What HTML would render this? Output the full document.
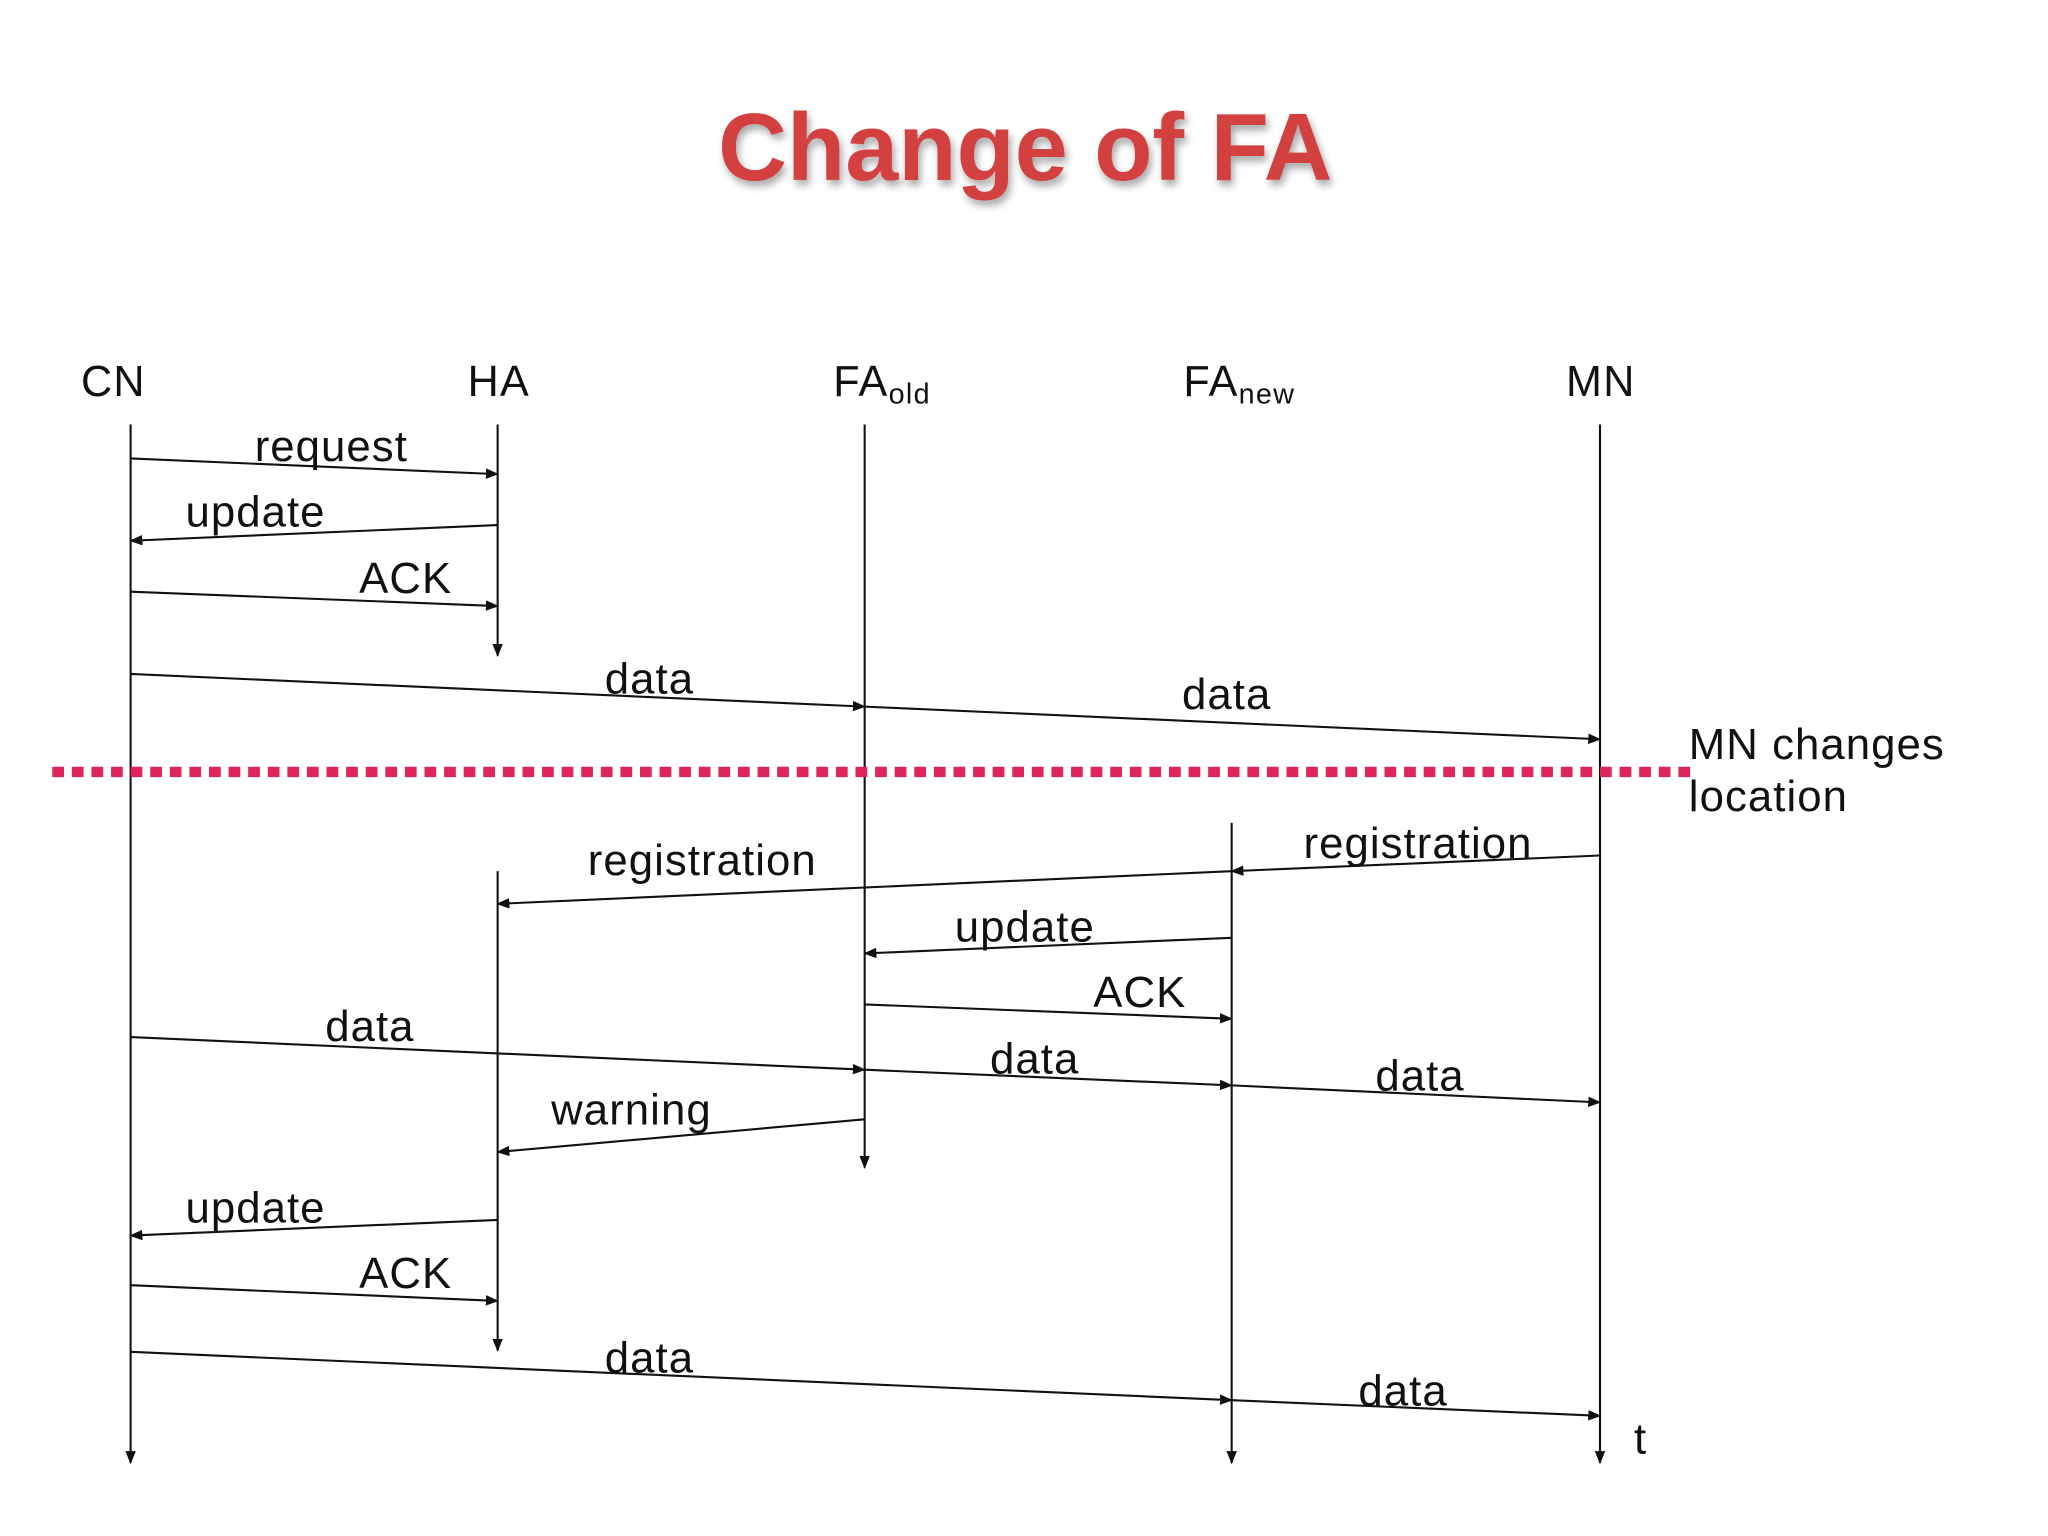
<!DOCTYPE html>
<html><head><meta charset="utf-8"><style>
html,body{margin:0;padding:0;background:#fff;}
svg{display:block;}
text{font-family:"Liberation Sans",sans-serif;fill:#111;}
</style></head><body>
<svg width="2048" height="1536" viewBox="0 0 1568 1176" xmlns="http://www.w3.org/2000/svg">
<defs>
<marker id="a" markerWidth="10" markerHeight="8" refX="9" refY="4" orient="auto" markerUnits="userSpaceOnUse"><path d="M0,0 L10,4 L0,8 z" fill="#111"/></marker>
<filter id="sh"><feDropShadow dx="2" dy="4" stdDeviation="3" flood-color="#000" flood-opacity="0.35"/></filter>
</defs>
<rect width="1568" height="1176" fill="#fff"/>
<text x="785" y="138" text-anchor="middle" font-size="73" font-weight="bold" style="fill:#d2403f" filter="url(#sh)">Change of FA</text>

<g font-size="33" letter-spacing="1">
<text x="62" y="303">CN</text>
<text x="358" y="303">HA</text>
<text x="638" y="303">FA<tspan font-size="22" dy="6">old</tspan></text>
<text x="906" y="303">FA<tspan font-size="22" dy="6">new</tspan></text>
<text x="1199" y="303">MN</text>
</g>

<g stroke="#111" stroke-width="1.6" fill="none" marker-end="url(#a)">
<line x1="100" y1="325" x2="100" y2="1120"/>
<line x1="381" y1="325" x2="381" y2="502"/>
<line x1="381" y1="667" x2="381" y2="1034"/>
<line x1="662" y1="325" x2="662" y2="894"/>
<line x1="943" y1="630" x2="943" y2="1120"/>
<line x1="1225" y1="325" x2="1225" y2="1120"/>

<line x1="100" y1="351" x2="381" y2="363"/>
<line x1="381" y1="402" x2="100" y2="414"/>
<line x1="100" y1="453" x2="381" y2="464"/>
<line x1="100" y1="516" x2="662" y2="541"/>
<line x1="662" y1="541" x2="1225" y2="566"/>
<line x1="1225" y1="655" x2="943" y2="667"/>
<line x1="943" y1="667" x2="381" y2="692"/>
<line x1="943" y1="718" x2="662" y2="730"/>
<line x1="662" y1="769" x2="943" y2="780"/>
<line x1="100" y1="794" x2="662" y2="819"/>
<line x1="662" y1="819" x2="943" y2="831"/>
<line x1="943" y1="831" x2="1225" y2="844"/>
<line x1="662" y1="857" x2="381" y2="882"/>
<line x1="381" y1="934" x2="100" y2="946"/>
<line x1="100" y1="984" x2="381" y2="996"/>
<line x1="100" y1="1035" x2="943" y2="1072"/>
<line x1="943" y1="1072" x2="1225" y2="1084"/>
</g>

<line x1="40" y1="591" x2="1295" y2="591" stroke="#e0245e" stroke-width="8" stroke-dasharray="9 6"/>

<g font-size="33.5" letter-spacing="0.8">
<text x="195" y="353">request</text>
<text x="142" y="403">update</text>
<text x="275" y="454">ACK</text>
<text x="463" y="531">data</text>
<text x="905" y="543">data</text>
<text x="998" y="657">registration</text>
<text x="450" y="670">registration</text>
<text x="731" y="721">update</text>
<text x="837" y="771">ACK</text>
<text x="249" y="797">data</text>
<text x="758" y="822">data</text>
<text x="1053" y="835">data</text>
<text x="422" y="861">warning</text>
<text x="142" y="936">update</text>
<text x="275" y="986">ACK</text>
<text x="463" y="1051">data</text>
<text x="1040" y="1076">data</text>
<text x="1251" y="1113">t</text>
</g>
<svg x="1290" y="545" width="200" height="100" overflow="hidden">
<text x="3" y="36" font-size="33.5" letter-spacing="0.8">MN changes</text>
<text x="3" y="76" font-size="33.5" letter-spacing="0.8">location</text>
</svg>
</svg>
</body></html>
